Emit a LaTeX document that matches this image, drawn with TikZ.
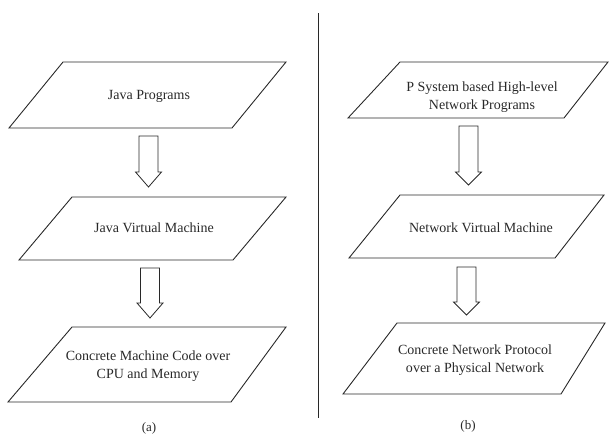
\documentclass[tikz,border=0pt]{standalone}
\usepackage{fontspec}
\setmainfont{Liberation Serif}
\usepackage{tikz}
\definecolor{inkgray}{RGB}{40, 40, 40}

\tikzset{
  layer/.style={draw=inkgray, line width=0.9pt, line join=miter},
  flow/.style={draw=inkgray, line width=0.8pt, fill=white},
  caption/.style={text=inkgray, font=\fontsize{14}{18}\selectfont, align=center},
  tag/.style={text=inkgray, font=\fontsize{13}{15}\selectfont}
}
% hollow block arrow: centre x, top, start of head, tip
\newcommand{\blockarrow}[4]{%
  \draw[flow] (#1-9.5,#2) -- (#1+9.5,#2) -- (#1+9.5,#3) -- (#1+13,#3)
    -- (#1,#4) -- (#1-13,#3) -- (#1-9.5,#3) -- cycle;}

\begin{document}
\begin{tikzpicture}[x=1pt, y=-1pt]
  \useasboundingbox (0,0) rectangle (609,434);

  %Left column (a)
  \draw[layer] (63,62) -- (286,62) -- (232,128) -- (9,128) -- cycle;
  \draw[layer] (72,197) -- (286,197) -- (233,260) -- (19,260) -- cycle;
  \draw[layer] (72,327) -- (286,327) -- (231,402) -- (8,402) -- cycle;
  \draw
   (149,96) node[caption](javaprog) {Java Programs}
   (154,228) node[caption](jvm) {Java Virtual Machine}
   (148,366) node[caption](cpucode) {Concrete Machine Code over\\CPU and Memory}
   (149,428) node[tag](capa) {(a)};
  \blockarrow{148.5}{136}{172}{187}
  \blockarrow{150}{268}{303}{318}

  %Separator
  \coordinate (septop) at (318,13);
  \coordinate (sepbot) at (318,418);
  \draw[inkgray, line width=0.9pt] (septop) -- (sepbot);

  %Right column (b)
  \draw[layer] (400,62) -- (608,62) -- (564,118) -- (348,118) -- cycle;
  \draw[layer] (400,195) -- (604,195) -- (555,258) -- (349,258) -- cycle;
  \draw[layer] (397,323) -- (605,323) -- (561,394) -- (343,394) -- cycle;
  \draw
   (482,97) node[caption](psysprog) {P System based High-level\\Network Programs}
   (481,228) node[caption](nvm) {Network Virtual Machine}
   (475,360) node[caption](netproto) {Concrete Network Protocol\\over a Physical Network}
   (468,426) node[tag](capb) {(b)};
  \blockarrow{468.5}{126}{172}{185}
  \blockarrow{466.5}{267}{302}{315}
\end{tikzpicture}
\end{document}
